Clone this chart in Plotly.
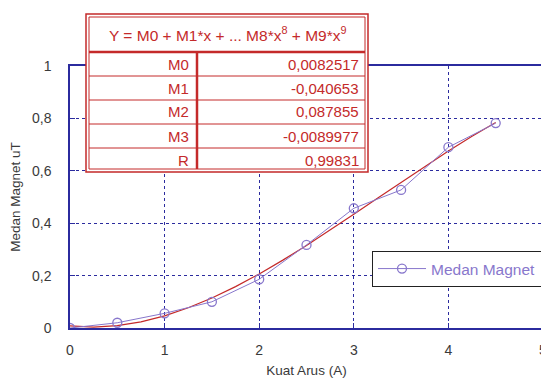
import plotly.graph_objects as go

# ---- data ----
kuat_arus = [0, 0.5, 1, 1.5, 2, 2.5, 3, 3.5, 4, 4.5]
medan_magnet = [0, 0.02, 0.056, 0.10, 0.186, 0.317, 0.457, 0.527, 0.69, 0.782]

fit_x = [0, 0.25, 0.5, 0.75, 1, 1.25, 1.5, 1.75, 2, 2.25, 2.5, 2.75, 3,
         3.25, 3.5, 3.75, 4, 4.25, 4.5]
fit_y = [0.0083, 0.0034, 0.0088, 0.0234, 0.0465, 0.0771, 0.1146, 0.1580,
         0.2064, 0.2591, 0.3151, 0.3737, 0.4341, 0.4952, 0.5564, 0.6168,
         0.6755, 0.7316, 0.7844]

table_title = "Y = M0 + M1*x + ... M8*x<sup>8</sup> + M9*x<sup>9</sup>"
param_names = ["M0", "M1", "M2", "M3", "R"]
param_values = ["0,0082517", "-0,040653", "0,087855", "-0,0089977", "0,99831"]

x_ticks = [0, 1, 2, 3, 4, 5]
y_ticks = [0, 0.2, 0.4, 0.6, 0.8, 1]

# page is 549x381, figure is placed with the browser's default 8px body margin
OFF = 8
W, H = 549 - OFF, 381 - OFF
L, R, T, B = 70, 543, 66, 328   # plot area in page pixels

def px(x):
    return (x - L) / (R - L)

def py(y):
    return (B - y) / (B - T)

AXIS = "#2b2b9e"
RED = "#c42a2a"
PURPLE = "#8877cc"
TXT = "#3a3a3a"

fig = go.Figure()
fig.add_trace(go.Scatter(x=fit_x, y=fit_y, mode="lines", showlegend=False,
                         line=dict(color=RED, width=1.2), hoverinfo="skip"))
fig.add_trace(go.Scatter(x=kuat_arus, y=medan_magnet, mode="lines+markers",
                         name="Medan Magnet",
                         line=dict(color=PURPLE, width=1),
                         marker=dict(symbol="circle-open", size=9,
                                     color=PURPLE, line=dict(width=1.3))))

# ---- table drawn as shapes/annotations ----
tx0, tx1 = 86, 368
ty0, ty_head, ty1 = 14, 52, 172
row_h = (ty1 - ty_head) / len(param_names)
col_x = 197
shapes = []
shapes.append(dict(type="rect", xref="paper", yref="paper",
                   x0=px(tx0), x1=px(tx1), y0=py(ty1), y1=py(ty0),
                   fillcolor="white", line=dict(color=RED, width=1.5), layer="above"))
shapes.append(dict(type="rect", xref="paper", yref="paper",
                   x0=px(tx0 + 3), x1=px(tx1 - 3), y0=py(ty1 - 3), y1=py(ty0 + 3),
                   fillcolor="rgba(0,0,0,0)", line=dict(color=RED, width=1), layer="above"))
shapes.append(dict(type="line", xref="paper", yref="paper",
                   x0=px(tx0 + 3), x1=px(tx1 - 3), y0=py(ty_head), y1=py(ty_head),
                   line=dict(color=RED, width=2.5), layer="above"))
for i in range(1, len(param_names)):
    yy = ty_head + i * row_h
    shapes.append(dict(type="line", xref="paper", yref="paper",
                       x0=px(tx0 + 3), x1=px(tx1 - 3), y0=py(yy), y1=py(yy),
                       line=dict(color=RED, width=1), layer="above"))
shapes.append(dict(type="line", xref="paper", yref="paper",
                   x0=px(col_x), x1=px(col_x), y0=py(ty1 - 3), y1=py(ty_head),
                   line=dict(color=RED, width=2.5), layer="above"))

annotations = []
annotations.append(dict(xref="paper", yref="paper", x=px((tx0 + tx1) / 2),
                        y=py((ty0 + ty_head) / 2 + 1), text=table_title,
                        showarrow=False, font=dict(size=15.5, color=RED),
                        xanchor="center", yanchor="middle"))
for i, (n, v) in enumerate(zip(param_names, param_values)):
    yc = ty_head + (i + 0.5) * row_h
    annotations.append(dict(xref="paper", yref="paper", x=px(col_x - 6), y=py(yc),
                            text=n, showarrow=False, font=dict(size=15, color=RED),
                            xanchor="right", yanchor="middle"))
    annotations.append(dict(xref="paper", yref="paper", x=px(tx1 - 7), y=py(yc),
                            text=v, showarrow=False, font=dict(size=15, color=RED),
                            xanchor="right", yanchor="middle"))

fig.update_layout(
    width=W, height=H,
    margin=dict(l=L - OFF, r=(W + OFF) - R, t=T - OFF, b=(H + OFF) - B, autoexpand=False),
    paper_bgcolor="white", plot_bgcolor="white",
    separators=", ",
    font=dict(family="Liberation Sans, Arial, sans-serif", color=TXT, size=14),
    shapes=shapes, annotations=annotations,
    legend=dict(x=px(372), y=py(251), xanchor="left", yanchor="top",
                bgcolor="white", bordercolor="#222222", borderwidth=1,
                itemwidth=48, tracegroupgap=0,
                font=dict(color=PURPLE, size=15.5)),
    xaxis=dict(range=[0, 5], tickvals=x_ticks, showline=True, mirror=True,
               linecolor=AXIS, linewidth=1.5, ticks="inside", ticklen=5,
               tickcolor=AXIS, showgrid=True, gridcolor=AXIS, griddash="dot",
               gridwidth=1, zeroline=False, automargin=False,
               ticklabelstandoff=8, tickfont=dict(size=14, color=TXT),
               title=dict(text="Kuat Arus (A)", font=dict(size=13.5, color=TXT), standoff=9)),
    yaxis=dict(range=[0, 1], tickvals=y_ticks, showline=True, mirror=True,
               linecolor=AXIS, linewidth=1.5, ticks="inside", ticklen=5,
               tickcolor=AXIS, showgrid=True, gridcolor=AXIS, griddash="dot",
               gridwidth=1, zeroline=False, automargin=False,
               ticklabelstandoff=14, tickfont=dict(size=14, color=TXT),
               title=dict(text="Medan Magnet uT", font=dict(size=13.5, color=TXT), standoff=8)),
)

fig.write_html("out.html")
